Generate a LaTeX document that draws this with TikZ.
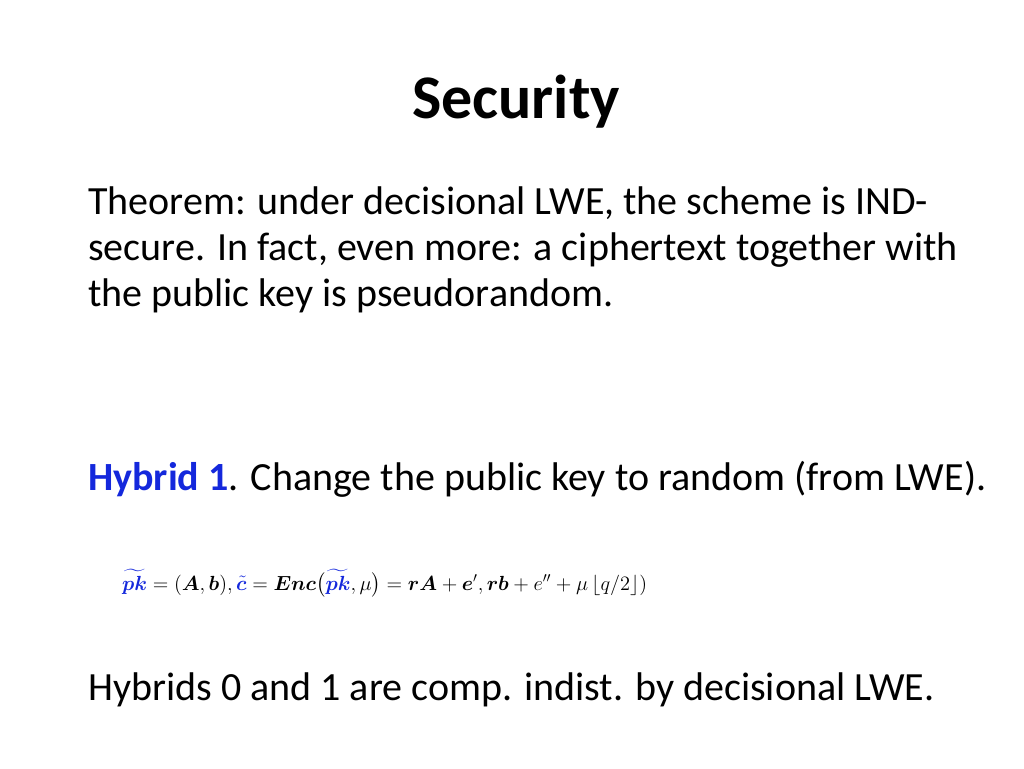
\documentclass[tikz,border=0pt]{standalone}
\usepackage{amsmath,bm,graphicx}
\usepackage{fontspec}
\setmainfont{Carlito}
\definecolor{hyb}{RGB}{20,40,220}
\begin{document}
\begin{tikzpicture}[x=1pt,y=-1pt,
  body/.style={anchor=base west,inner sep=0pt,font=\fontsize{40}{46}\selectfont}]
\useasboundingbox (0,0) rectangle (1024,768);
\node[anchor=base,inner sep=0pt,font=\fontsize{62}{62}\selectfont\bfseries] (title) at (516,118) {Security};
\node[body,align=left] (thm) at (88,306) {Theorem: under decisional LWE, the scheme is IND-\\secure. In fact, even more: a ciphertext together with\\the public key is pseudorandom.};
\node[body] (hyb) at (88,490) {\textcolor{hyb}{\textbf{Hybrid 1}}. Change the public key to random (from LWE).};
\node[anchor=base west,inner sep=0pt] (eq) at (122,590)
 {\scalebox{1.42}{\Large$\color{hyb}\widetilde{\bm{pk}}\color{black} = (\bm{A},\bm{b}),\color{hyb}\tilde{\bm{c}}\color{black} = \bm{Enc}\bigl(\color{hyb}\widetilde{\bm{pk}}\color{black},\mu\bigr) = \bm{rA}+\bm{e}',\bm{rb}+e''+\mu\,\lfloor q/2\rfloor)$}};
\node[body] (last) at (88,700) {Hybrids 0 and 1 are comp. indist. by decisional LWE.};
\end{tikzpicture}
\end{document}
